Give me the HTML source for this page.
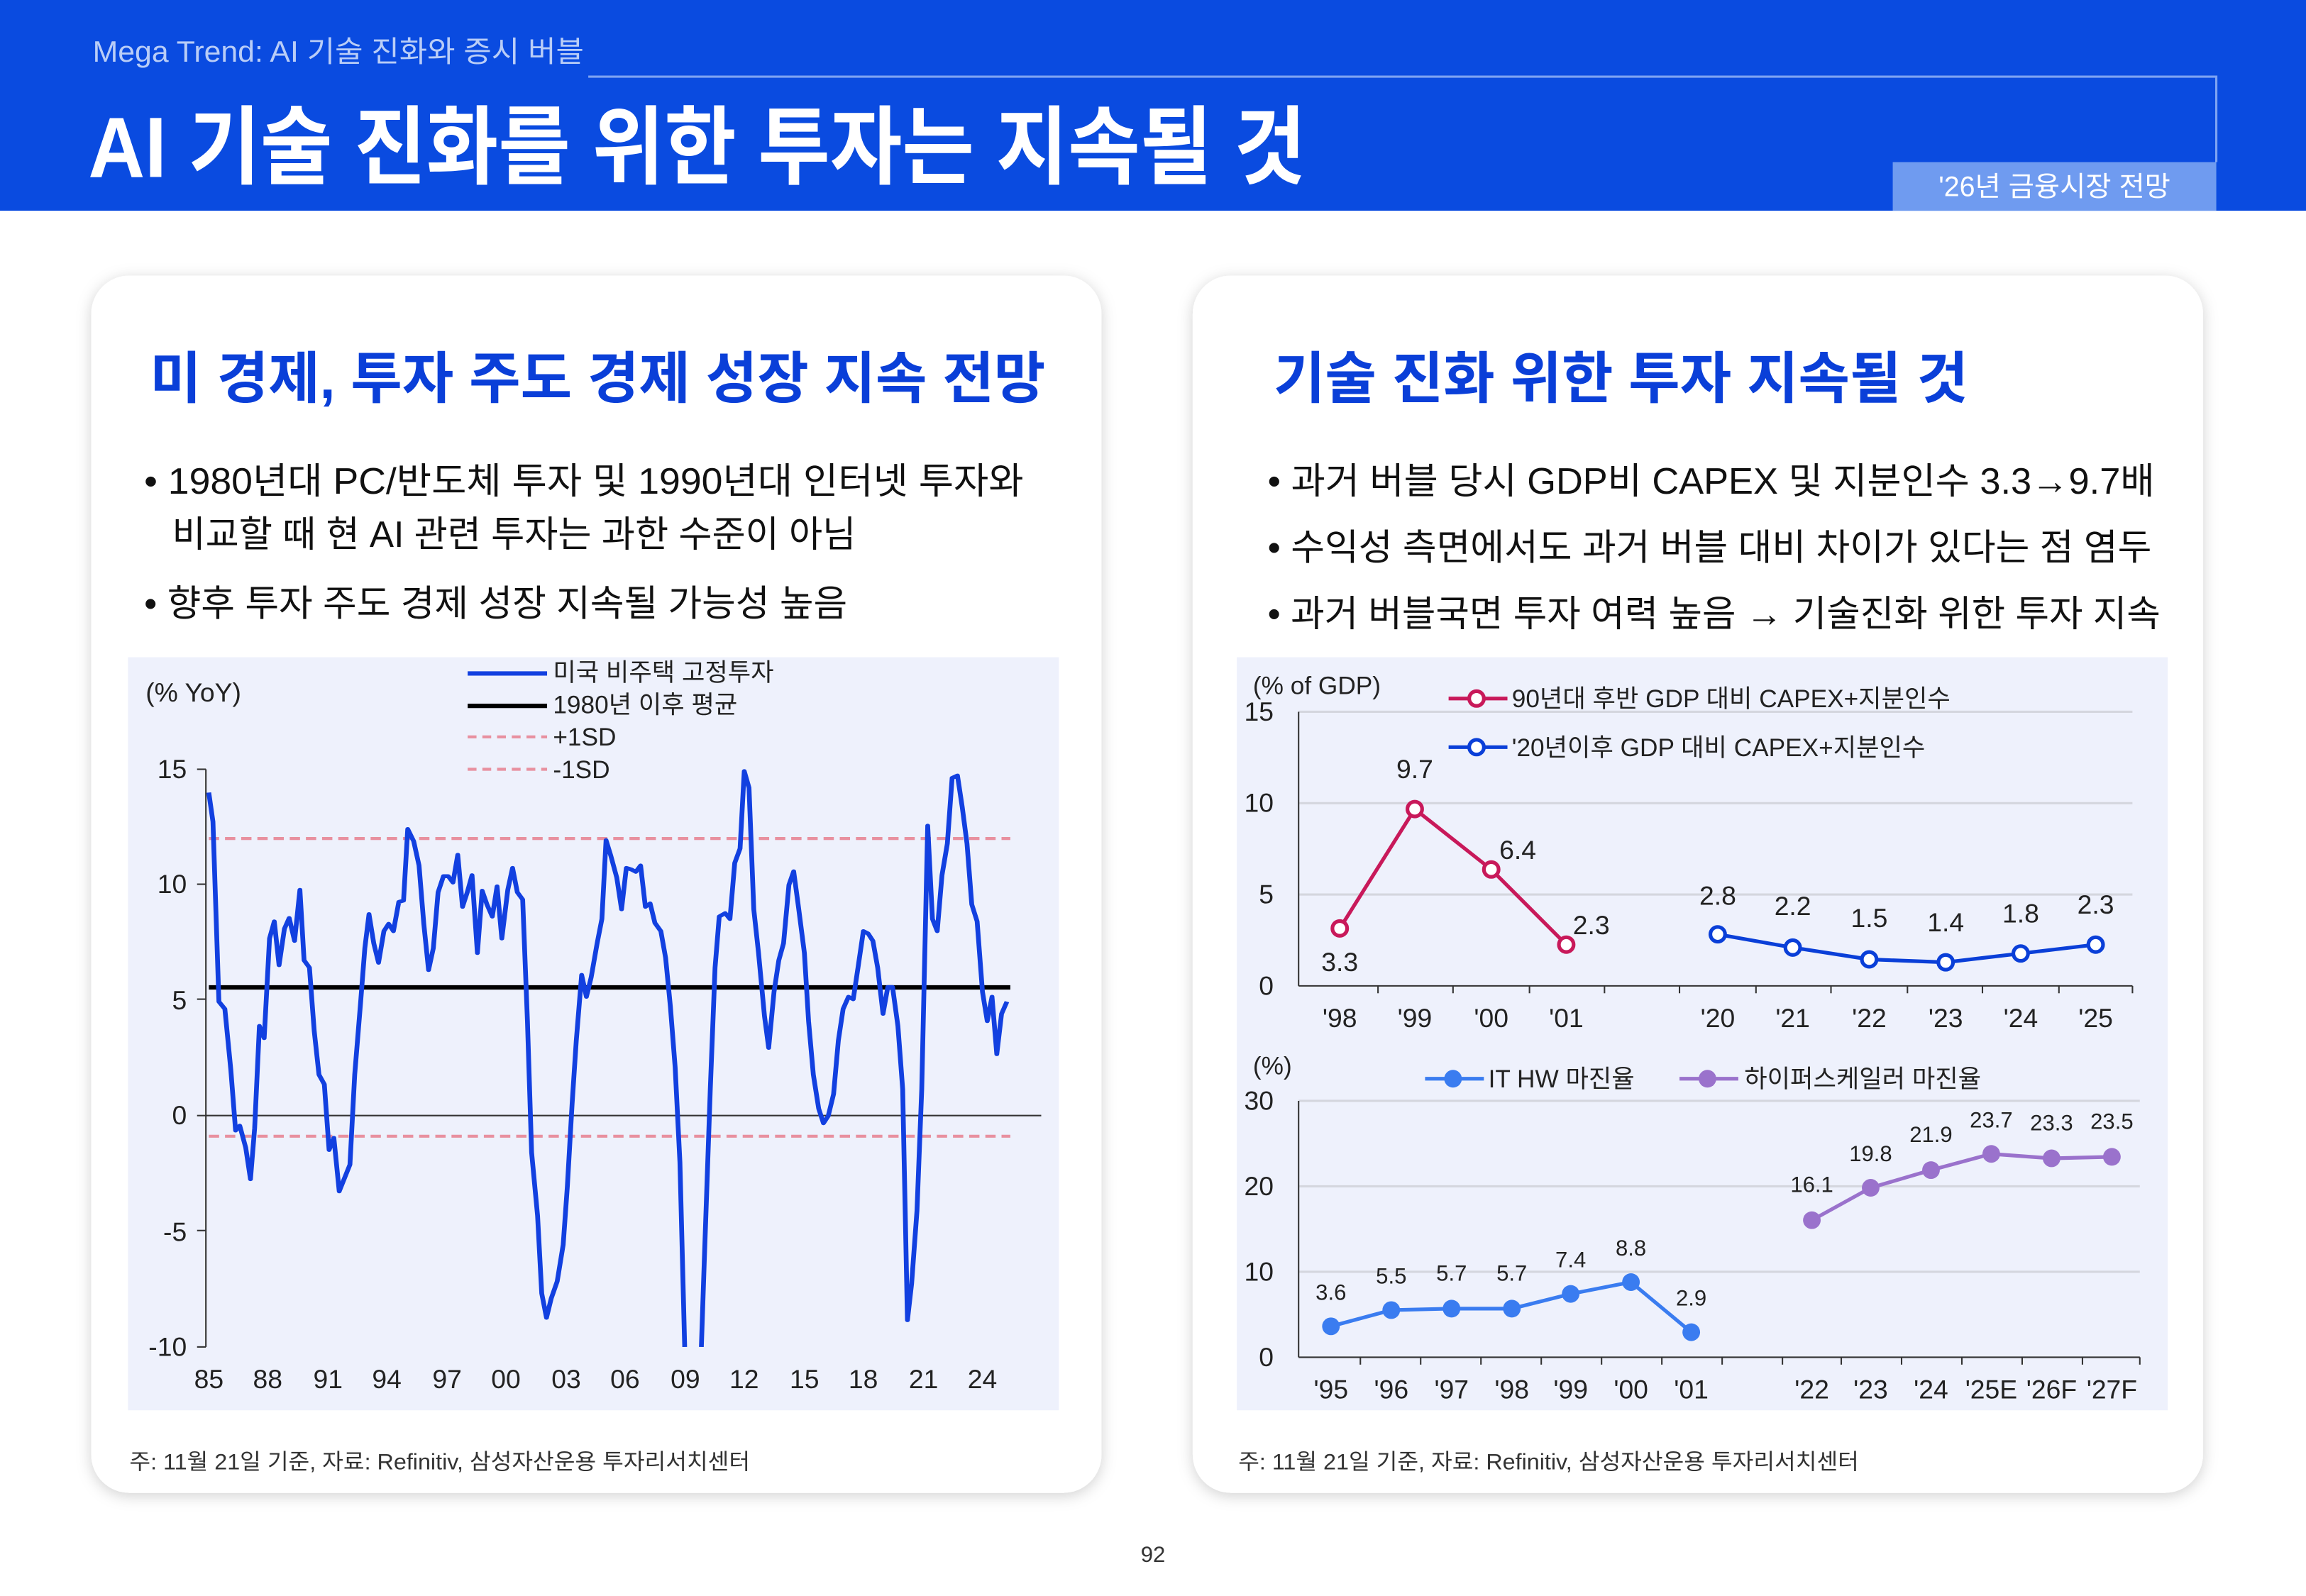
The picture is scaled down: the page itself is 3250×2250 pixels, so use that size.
<!DOCTYPE html>
<html><head><meta charset="utf-8"><style>
html,body{margin:0;padding:0;width:3250px;height:2250px;overflow:hidden;background:#fff}
svg{display:block}
text{font-family:"Liberation Sans","Noto Sans CJK KR",sans-serif}
</style></head><body>
<svg width="3250" height="2250" viewBox="0 0 1568 1083" preserveAspectRatio="none" xmlns="http://www.w3.org/2000/svg">
<defs>
<filter id="sh" x="-5%" y="-5%" width="110%" height="110%"><feDropShadow dx="0" dy="2" stdDeviation="5" flood-color="#000" flood-opacity="0.18"/></filter>
</defs>
<rect x="0" y="0" width="1568" height="1083" fill="#fff"/>
<!-- header -->
<rect x="0" y="0" width="1568" height="143" fill="#0a4be0"/>
<text x="63" y="42" font-size="20" fill="#b9cdf7" textLength="334" lengthAdjust="spacingAndGlyphs">Mega Trend: AI 기술 진화와 증시 버블</text>
<polyline points="400,52 1507,52 1507,110" fill="none" stroke="#7ea3f2" stroke-width="1.5"/>
<text x="60" y="120" font-size="58" font-weight="bold" fill="#fff" textLength="828" lengthAdjust="spacingAndGlyphs">AI 기술 진화를 위한 투자는 지속될 것</text>
<rect x="1287" y="110" width="220" height="33" fill="#6f9bf0"/>
<text x="1397" y="133" font-size="19" fill="#fff" text-anchor="middle">'26년 금융시장 전망</text>

<!-- cards -->
<rect x="62" y="187" width="687" height="826" rx="26" fill="#fff" filter="url(#sh)"/>
<rect x="811" y="187" width="687" height="826" rx="26" fill="#fff" filter="url(#sh)"/>

<text x="102" y="270" font-size="38" font-weight="bold" fill="#0a3fd8">미 경제, 투자 주도 경제 성장 지속 전망</text>
<text x="98" y="335" font-size="25" fill="#111" textLength="598" lengthAdjust="spacingAndGlyphs">• 1980년대 PC/반도체 투자 및 1990년대 인터넷 투자와</text>
<text x="117" y="371" font-size="25" fill="#111" textLength="465" lengthAdjust="spacingAndGlyphs">비교할 때 현 AI 관련 투자는 과한 수준이 아님</text>
<text x="98" y="418" font-size="25" fill="#111">• 향후 투자 주도 경제 성장 지속될 가능성 높음</text>

<text x="866" y="270" font-size="38" font-weight="bold" fill="#0a3fd8">기술 진화 위한 투자 지속될 것</text>
<text x="862" y="335" font-size="25" fill="#111" textLength="603" lengthAdjust="spacingAndGlyphs">• 과거 버블 당시 GDP비 CAPEX 및 지분인수 3.3→9.7배</text>
<text x="862" y="380" font-size="25" fill="#111" textLength="601" lengthAdjust="spacingAndGlyphs">• 수익성 측면에서도 과거 버블 대비 차이가 있다는 점 염두</text>
<text x="862" y="425" font-size="25" fill="#111" textLength="607" lengthAdjust="spacingAndGlyphs">• 과거 버블국면 투자 여력 높음 → 기술진화 위한 투자 지속</text>

<!-- left chart -->
<rect x="87" y="446" width="633" height="511" fill="#eef1fc"/>
<text x="99" y="476" font-size="18" fill="#222">(% YoY)</text>
<g font-size="18" fill="#222" text-anchor="end">
<text x="127" y="528">15</text><text x="127" y="606">10</text><text x="127" y="685">5</text>
<text x="127" y="763">0</text><text x="127" y="842">-5</text><text x="127" y="920">-10</text>
</g>
<line x1="140" y1="522" x2="140" y2="914" stroke="#333" stroke-width="1"/>
<g stroke="#333" stroke-width="1">
<line x1="134" y1="522" x2="140" y2="522"/><line x1="134" y1="600" x2="140" y2="600"/><line x1="134" y1="678" x2="140" y2="678"/><line x1="134" y1="757" x2="140" y2="757"/><line x1="134" y1="835" x2="140" y2="835"/><line x1="134" y1="914" x2="140" y2="914"/>
<line x1="140" y1="757" x2="708" y2="757"/>
</g>
<g font-size="18" fill="#222" text-anchor="middle">
<text x="142" y="942">85</text><text x="182" y="942">88</text><text x="223" y="942">91</text><text x="263" y="942">94</text><text x="304" y="942">97</text><text x="344" y="942">00</text><text x="385" y="942">03</text><text x="425" y="942">06</text><text x="466" y="942">09</text><text x="506" y="942">12</text><text x="547" y="942">15</text><text x="587" y="942">18</text><text x="628" y="942">21</text><text x="668" y="942">24</text>
</g>
<line x1="142" y1="569" x2="687" y2="569" stroke="#e8909f" stroke-width="2" stroke-dasharray="7,4"/>
<line x1="142" y1="771" x2="687" y2="771" stroke="#e8909f" stroke-width="2" stroke-dasharray="7,4"/>
<line x1="142" y1="670" x2="687" y2="670" stroke="#000" stroke-width="3"/>
<g transform="translate(88.1,442.1) scale(0.405,0.330)">
<polyline fill="none" stroke="#1240e0" stroke-width="8" stroke-linejoin="round" points="133,290 140,350 150,720 160,735 170,860 178,985 185,975 195,1020 203,1085 210,980 218,770 226,795 235,590 243,555 251,645 260,570 268,548 277,595 286,490 293,635 302,650 310,780 318,870 327,890 335,1025 343,1000 352,1110 370,1055 378,870 388,720 395,610 402,540 410,600 418,640 427,575 435,560 443,575 452,515 460,512 467,365 477,390 486,440 494,560 502,655 510,610 518,495 527,462 535,462 543,475 551,418 559,525 567,495 575,460 584,620 592,492 600,520 609,545 617,483 625,590 635,490 643,445 651,495 660,510 668,760 675,1030 685,1160 692,1320 700,1370 708,1330 718,1295 728,1220 735,1100 743,930 750,800 759,665 767,710 775,670 785,600 793,550 800,388 808,420 818,465 826,530 834,445 842,448 850,453 858,440 866,525 874,518 882,558 892,575 900,630 908,730 916,855 924,1050 932,1430"/>
<polyline fill="none" stroke="#1240e0" stroke-width="8" stroke-linejoin="round" points="960,1430 965,1250 975,900 983,650 990,545 1000,538 1008,550 1016,435 1025,405 1032,246 1040,280 1048,530 1056,620 1066,750 1073,815 1082,700 1090,635 1098,600 1107,480 1115,452 1123,525 1133,620 1140,760 1148,870 1157,940 1165,970 1173,955 1182,910 1190,800 1198,735 1207,710 1215,715 1223,650 1232,575 1240,580 1248,595 1256,650 1265,745 1273,690 1281,690 1290,770 1298,900 1306,1375 1313,1300 1322,1150 1330,900 1340,358 1348,550 1356,575 1364,460 1373,395 1381,260 1390,255 1398,320 1406,395 1414,520 1423,555 1432,700 1440,760 1448,710 1456,828 1464,745 1473,720"/>
</g>
<!-- left legend -->
<line x1="318" y1="457" x2="372" y2="457" stroke="#1240e0" stroke-width="3"/>
<text x="376" y="462" font-size="17" fill="#222">미국 비주택 고정투자</text>
<line x1="318" y1="479" x2="372" y2="479" stroke="#000" stroke-width="3"/>
<text x="376" y="484" font-size="17" fill="#222">1980년 이후 평균</text>
<line x1="318" y1="500" x2="372" y2="500" stroke="#e8909f" stroke-width="2" stroke-dasharray="6,4"/>
<text x="376" y="506" font-size="17" fill="#222">+1SD</text>
<line x1="318" y1="522" x2="372" y2="522" stroke="#e8909f" stroke-width="2" stroke-dasharray="6,4"/>
<text x="376" y="528" font-size="17" fill="#222">-1SD</text>
<text x="88" y="997" font-size="15" fill="#333" textLength="422" lengthAdjust="spacingAndGlyphs">주: 11월 21일 기준, 자료: Refinitiv, 삼성자산운용 투자리서치센터</text>

<!-- right chart -->
<rect x="841" y="446" width="633" height="511" fill="#eef1fc"/>
<text x="852" y="471" font-size="17" fill="#222">(% of GDP)</text>
<g stroke="#d4d6de" stroke-width="1.5">
<line x1="883" y1="483" x2="1450" y2="483"/><line x1="883" y1="545" x2="1450" y2="545"/><line x1="883" y1="607" x2="1450" y2="607"/>
</g>
<line x1="883" y1="483" x2="883" y2="669" stroke="#333"/>
<line x1="883" y1="669" x2="1450" y2="669" stroke="#333"/>
<g stroke="#333"><line x1="937" y1="669" x2="937" y2="674"/><line x1="988" y1="669" x2="988" y2="674"/><line x1="1040" y1="669" x2="1040" y2="674"/><line x1="1091" y1="669" x2="1091" y2="674"/><line x1="1142" y1="669" x2="1142" y2="674"/><line x1="1194" y1="669" x2="1194" y2="674"/><line x1="1245" y1="669" x2="1245" y2="674"/><line x1="1297" y1="669" x2="1297" y2="674"/><line x1="1348" y1="669" x2="1348" y2="674"/><line x1="1400" y1="669" x2="1400" y2="674"/><line x1="1450" y1="669" x2="1450" y2="674"/></g>
<g font-size="18" fill="#222" text-anchor="end">
<text x="866" y="489">15</text><text x="866" y="551">10</text><text x="866" y="613">5</text><text x="866" y="675">0</text>
</g>
<g font-size="18" fill="#222" text-anchor="middle">
<text x="911" y="697">'98</text><text x="962" y="697">'99</text><text x="1014" y="697">'00</text><text x="1065" y="697">'01</text><text x="1168" y="697">'20</text><text x="1219" y="697">'21</text><text x="1271" y="697">'22</text><text x="1323" y="697">'23</text><text x="1374" y="697">'24</text><text x="1425" y="697">'25</text>
</g>
<polyline points="911,630 962,549 1014,590 1065,641" fill="none" stroke="#c8195a" stroke-width="2.5"/>
<g fill="#fff" stroke="#c8195a" stroke-width="2.5"><circle cx="911" cy="630" r="5"/><circle cx="962" cy="549" r="5"/><circle cx="1014" cy="590" r="5"/><circle cx="1065" cy="641" r="5"/></g>
<polyline points="1168,634 1219,643 1271,651 1323,653 1374,647 1425,641" fill="none" stroke="#0a3fd8" stroke-width="2.5"/>
<g fill="#fff" stroke="#0a3fd8" stroke-width="2.5"><circle cx="1168" cy="634" r="5"/><circle cx="1219" cy="643" r="5"/><circle cx="1271" cy="651" r="5"/><circle cx="1323" cy="653" r="5"/><circle cx="1374" cy="647" r="5"/><circle cx="1425" cy="641" r="5"/></g>
<g font-size="18" fill="#222" text-anchor="middle">
<text x="911" y="659">3.3</text><text x="962" y="528">9.7</text><text x="1032" y="583">6.4</text><text x="1082" y="634">2.3</text>
<text x="1168" y="614">2.8</text><text x="1219" y="621">2.2</text><text x="1271" y="629">1.5</text><text x="1323" y="632">1.4</text><text x="1374" y="626">1.8</text><text x="1425" y="620">2.3</text>
</g>
<line x1="985" y1="474" x2="1025" y2="474" stroke="#c8195a" stroke-width="2.5"/><circle cx="1004" cy="474" r="5" fill="#fff" stroke="#c8195a" stroke-width="2.5"/>
<text x="1028" y="480" font-size="17" fill="#222">90년대 후반 GDP 대비 CAPEX+지분인수</text>
<line x1="985" y1="507" x2="1025" y2="507" stroke="#0a3fd8" stroke-width="2.5"/><circle cx="1004" cy="507" r="5" fill="#fff" stroke="#0a3fd8" stroke-width="2.5"/>
<text x="1028" y="513" font-size="17" fill="#222">'20년이후 GDP 대비 CAPEX+지분인수</text>

<text x="852" y="729" font-size="17" fill="#222">(%)</text>
<g stroke="#d4d6de" stroke-width="1.5">
<line x1="883" y1="747" x2="1455" y2="747"/><line x1="883" y1="805" x2="1455" y2="805"/><line x1="883" y1="863" x2="1455" y2="863"/>
</g>
<line x1="883" y1="747" x2="883" y2="921" stroke="#333"/>
<line x1="883" y1="921" x2="1455" y2="921" stroke="#333"/>
<g stroke="#333"><line x1="925" y1="921" x2="925" y2="926"/><line x1="966" y1="921" x2="966" y2="926"/><line x1="1007" y1="921" x2="1007" y2="926"/><line x1="1048" y1="921" x2="1048" y2="926"/><line x1="1089" y1="921" x2="1089" y2="926"/><line x1="1130" y1="921" x2="1130" y2="926"/><line x1="1171" y1="921" x2="1171" y2="926"/><line x1="1212" y1="921" x2="1212" y2="926"/><line x1="1252" y1="921" x2="1252" y2="926"/><line x1="1293" y1="921" x2="1293" y2="926"/><line x1="1334" y1="921" x2="1334" y2="926"/><line x1="1375" y1="921" x2="1375" y2="926"/><line x1="1416" y1="921" x2="1416" y2="926"/><line x1="1455" y1="921" x2="1455" y2="926"/></g>
<g font-size="18" fill="#222" text-anchor="end">
<text x="866" y="753">30</text><text x="866" y="811">20</text><text x="866" y="869">10</text><text x="866" y="927">0</text>
</g>
<g font-size="18" fill="#222" text-anchor="middle">
<text x="905" y="949">'95</text><text x="946" y="949">'96</text><text x="987" y="949">'97</text><text x="1028" y="949">'98</text><text x="1068" y="949">'99</text><text x="1109" y="949">'00</text><text x="1150" y="949">'01</text><text x="1232" y="949">'22</text><text x="1272" y="949">'23</text><text x="1313" y="949">'24</text><text x="1354" y="949">'25E</text><text x="1395" y="949">'26F</text><text x="1436" y="949">'27F</text>
</g>
<polyline points="905,900 946,889 987,888 1028,888 1068,878 1109,870 1150,904" fill="none" stroke="#3a7cf0" stroke-width="2.5"/>
<g fill="#3a7cf0"><circle cx="905" cy="900" r="6"/><circle cx="946" cy="889" r="6"/><circle cx="987" cy="888" r="6"/><circle cx="1028" cy="888" r="6"/><circle cx="1068" cy="878" r="6"/><circle cx="1109" cy="870" r="6"/><circle cx="1150" cy="904" r="6"/></g>
<polyline points="1232,828 1272,806 1313,794 1354,783 1395,786 1436,785" fill="none" stroke="#9a72cc" stroke-width="2.5"/>
<g fill="#9a72cc"><circle cx="1232" cy="828" r="6"/><circle cx="1272" cy="806" r="6"/><circle cx="1313" cy="794" r="6"/><circle cx="1354" cy="783" r="6"/><circle cx="1395" cy="786" r="6"/><circle cx="1436" cy="785" r="6"/></g>
<g font-size="15" fill="#222" text-anchor="middle">
<text x="905" y="882">3.6</text><text x="946" y="871">5.5</text><text x="987" y="869">5.7</text><text x="1028" y="869">5.7</text><text x="1068" y="860">7.4</text><text x="1109" y="852">8.8</text><text x="1150" y="886">2.9</text>
<text x="1232" y="809">16.1</text><text x="1272" y="788">19.8</text><text x="1313" y="775">21.9</text><text x="1354" y="765">23.7</text><text x="1395" y="767">23.3</text><text x="1436" y="766">23.5</text>
</g>
<line x1="969" y1="732" x2="1009" y2="732" stroke="#3a7cf0" stroke-width="2.5"/><circle cx="988" cy="732" r="6" fill="#3a7cf0"/>
<text x="1012" y="738" font-size="17" fill="#222">IT HW 마진율</text>
<line x1="1142" y1="732" x2="1182" y2="732" stroke="#9a72cc" stroke-width="2.5"/><circle cx="1161" cy="732" r="6" fill="#9a72cc"/>
<text x="1186" y="738" font-size="17" fill="#222">하이퍼스케일러 마진율</text>

<text x="842" y="997" font-size="15" fill="#333" textLength="422" lengthAdjust="spacingAndGlyphs">주: 11월 21일 기준, 자료: Refinitiv, 삼성자산운용 투자리서치센터</text>
<text x="784" y="1060" font-size="15" fill="#333" text-anchor="middle">92</text>
</svg>
</body></html>
